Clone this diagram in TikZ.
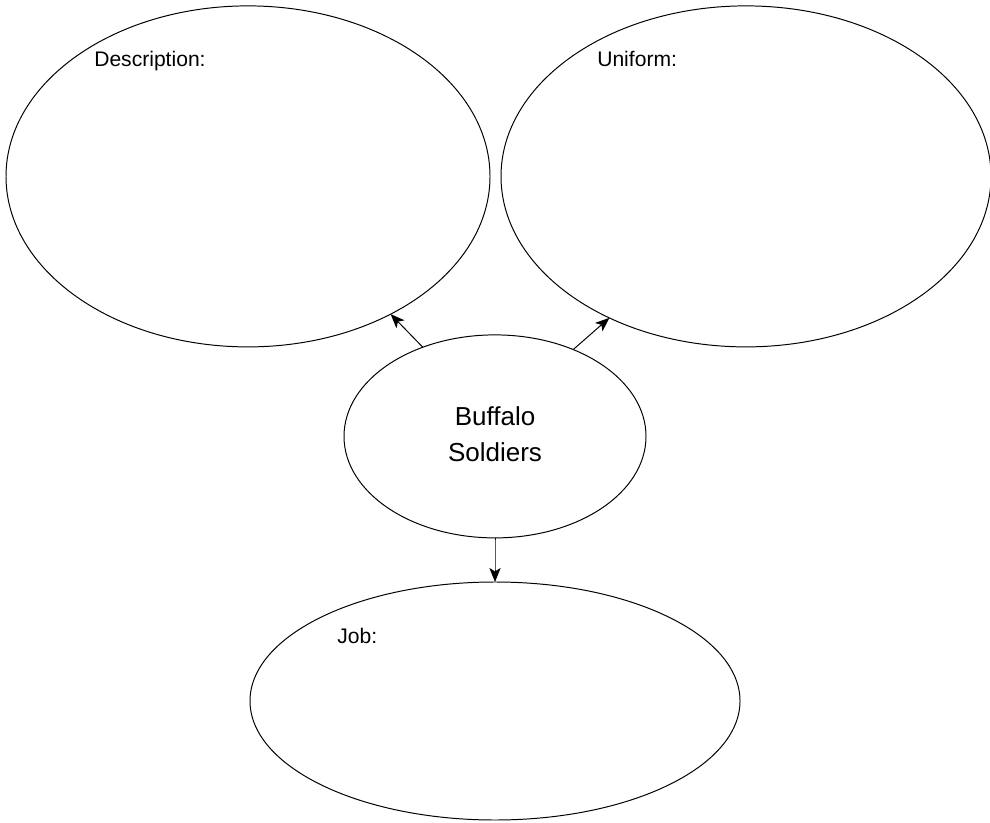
\documentclass[tikz,border=0pt]{standalone}
\usepackage{fontspec}
\setmainfont{Liberation Sans}
\usepackage{tikz-network}
\usetikzlibrary{shapes,arrows.meta}

\begin{document}
\begin{tikzpicture}
\useasboundingbox (0,0) rectangle (24.75,20.55);
\Vertex[x=6.2,y=16.14,shape=ellipse,color=white,NoLabel,style={line width=0.7pt,minimum width=12.1cm,minimum height=8.525cm}]{desc}
\Vertex[x=18.65,y=16.14,shape=ellipse,color=white,NoLabel,style={line width=0.7pt,minimum width=12.25cm,minimum height=8.525cm}]{unif}
\Vertex[x=12.375,y=9.64,shape=ellipse,color=white,fontsize={\fontsize{18.5}{25}\selectfont},label={\begin{tabular}{c}Buffalo\\Soldiers\end{tabular}},style={line width=0.7pt,minimum width=7.55cm,minimum height=5.075cm}]{bs}
\Vertex[x=12.375,y=3.025,shape=ellipse,color=white,NoLabel,style={line width=0.7pt,minimum width=12.25cm,minimum height=5.95cm}]{job}
\Edge[Direct,lw=0.7,color=black,style={-{Stealth[length=10pt,width=8pt,inset=2.5pt]}}](bs.129)(desc.-44)
\Edge[Direct,lw=0.7,color=black,style={-{Stealth[length=10pt,width=8pt,inset=2.5pt]}}](bs.48)(unif.-134)
\Edge[Direct,lw=0.7,color=black,style={-{Stealth[length=10pt,width=8pt,inset=2.5pt]}}](bs.south)(job.north)
\node[anchor=base west,inner sep=0pt,font=\fontsize{15}{18}\selectfont] (desctext) at (2.35,18.875) {Description:};
\node[anchor=base west,inner sep=0pt,font=\fontsize{15}{18}\selectfont] (uniftext) at (14.925,18.875) {Uniform:};
\node[anchor=base west,inner sep=0pt,font=\fontsize{15}{18}\selectfont] (jobtext) at (8.425,4.475) {Job:};
\end{tikzpicture}
\end{document}
